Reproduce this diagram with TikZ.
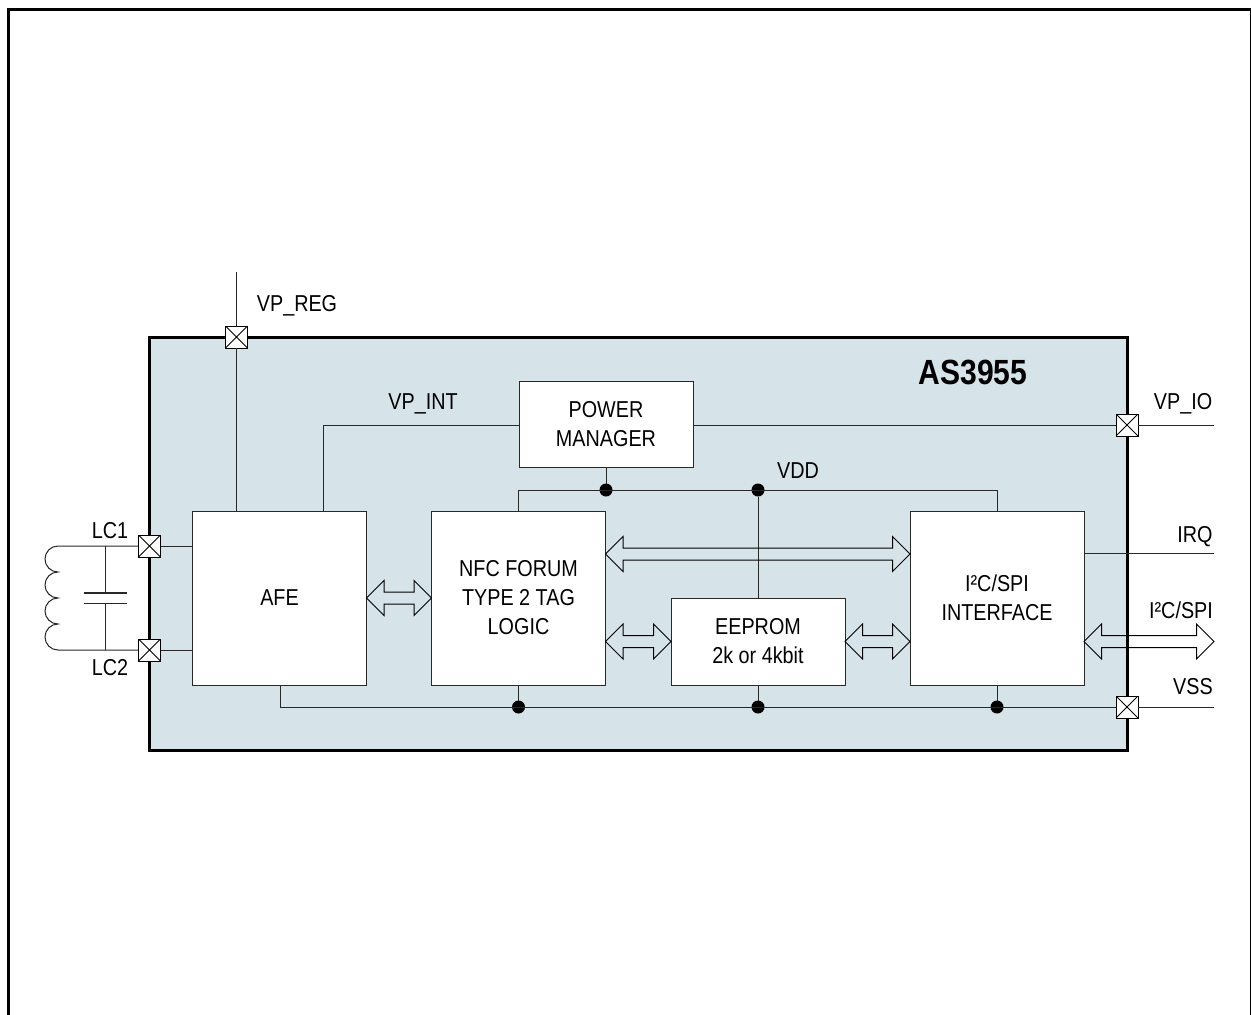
\documentclass[tikz,border=0pt]{standalone}
\usepackage{fontspec}
\setmainfont[FakeStretch=0.86]{Liberation Sans}
\usetikzlibrary{calc}
\definecolor{cchip}{RGB}{214,228,234}
\definecolor{cwire}{RGB}{40,40,40}
\tikzset{chipdiag/.style={x=1pt,y=-1pt,font=\fontsize{23}{29}\selectfont}}
\tikzset{block/.style={draw=cwire,fill=white,line width=1pt,outer sep=0pt,align=center,inner sep=0pt},
         wire/.style={cwire,line width=1pt},
         bus/.style={black,line width=1pt,line join=miter},
         pin/.style={draw=black,fill=white,line width=1pt,minimum size=22pt,inner sep=0pt,outer sep=0pt,
                     path picture={\draw[black,line width=.8pt] (path picture bounding box.north west) -- (path picture bounding box.south east)
                                   (path picture bounding box.south west) -- (path picture bounding box.north east);}},
         junction/.style={circle,fill=black,minimum size=13pt,inner sep=0pt,outer sep=0pt}}
% open double arrow between two points on one horizontal line
\newcommand{\busarrow}[2]{%
  \draw[bus] let \p1=(#1),\p2=(#2) in
    (\x1,\y1) -- (\x1+17.5pt,\y1+17.5pt) -- (\x1+17.5pt,\y1+6pt) -- (\x2-17.5pt,\y1+6pt) -- (\x2-17.5pt,\y1+17.5pt) --
    (\x2,\y1) -- (\x2-17.5pt,\y1-17.5pt) -- (\x2-17.5pt,\y1-6pt) -- (\x1+17.5pt,\y1-6pt) -- (\x1+17.5pt,\y1-17.5pt) -- cycle;}

\begin{document}
\begin{tikzpicture}[chipdiag]
    \useasboundingbox (0,0) rectangle (1251,1015);
    \draw[black,line width=3pt] (8,1015) -- (8,9) -- (1251,9) -- (1251,1015);
    \node[draw=black,fill=cchip,line width=3pt,minimum width=977.6pt,minimum height=413pt,inner sep=0pt] (chip) at (638.5,543.5) {};

    % blocks
    \node[block,minimum width=174pt,minimum height=174pt] (afe)   at (279.5,598) {AFE};
    \node[block,minimum width=174pt,minimum height=174pt] (nfc)   at (518.5,598) {NFC FORUM\\TYPE 2 TAG\\LOGIC};
    \node[block,minimum width=174pt,minimum height=87pt]  (eep)   at (758,641.5) {EEPROM\\2k or 4kbit};
    \node[block,minimum width=174pt,minimum height=174pt] (ifc)   at (997,598) {I²C/SPI\\INTERFACE};
    \node[block,minimum width=174pt,minimum height=86pt]  (pwr)   at (606,424) {POWER\\MANAGER};

    % pins and free ends
    \node[pin] (pvreg) at (236.5,337) {};
    \node[pin] (plc1)  at (149.5,546) {};
    \node[pin] (plc2)  at (149.5,650) {};
    \node[pin] (pvio)  at (1127,425) {};
    \node[pin] (pvss)  at (1127,707) {};
    \coordinate (evreg) at (236.5,272);
    \coordinate (evio)  at (1214,425);
    \coordinate (evss)  at (1214,707);
    \coordinate (eirq)  at (1214,553);
    \coordinate (ebus)  at (1214,641.5);
    \coordinate (vint)  at (323,425);
    \coordinate (vssl)  at (280,707);
    \coordinate (vddl)  at (518.5,490);
    \coordinate (vddr)  at (997,490);

    % junctions
    \node[junction] (j1) at (606,490) {};
    \node[junction] (j2) at (758,490) {};
    \node[junction] (j3) at (518.5,707) {};
    \node[junction] (j4) at (758,707) {};
    \node[junction] (j5) at (997,707) {};

    % wires
    \draw[wire] (evreg) -- (pvreg);
    \draw[wire] (pvreg) -- (afe.north -| pvreg);
    \draw[wire] (afe.north -| vint) -- (vint) -- (pwr.west |- vint);
    \draw[wire] (pwr.east |- pvio) -- (pvio);
    \draw[wire] (pvio) -- (evio);
    \draw[wire] (pwr.south) -- (j1);
    \draw[wire] (nfc.north) -- (vddl) -- (vddr) -- (ifc.north);
    \draw[wire] (j2) -- (eep.north);
    \draw[wire] (afe.south -| vssl) -- (vssl) -- (pvss);
    \draw[wire] (pvss) -- (evss);
    \draw[wire] (nfc.south) -- (j3);
    \draw[wire] (eep.south) -- (j4);
    \draw[wire] (ifc.south) -- (j5);
    \draw[wire] (ifc.east |- eirq) -- (eirq);
    \draw[wire] (plc1) -- (afe.west |- plc1);
    \draw[wire] (plc2) -- (afe.west |- plc2);

    % antenna
    \coordinate (coila) at (58,546);
    \coordinate (coilb) at (58,650);
    \coordinate (capa) at (105,593);
    \coordinate (capb) at (105,603);
    \draw[wire] (plc1) -- (coila)
      arc[start angle=270,end angle=90,radius=13]
      arc[start angle=270,end angle=90,radius=13]
      arc[start angle=270,end angle=90,radius=13]
      arc[start angle=270,end angle=90,radius=13] -- (plc2);
    \draw[wire] (plc1 -| capa) -- (capa);
    \draw[wire] (plc2 -| capb) -- (capb);
    \draw[cwire,line width=1.8pt] (84,593) -- (127,593);
    \draw[wire] (84,603) -- (127,603);

    % buses
    \busarrow{afe.east |- nfc.center}{nfc.west}
    \busarrow{$(nfc.east |- 0,554)$}{$(ifc.west |- 0,554)$}
    \busarrow{nfc.east |- eep.center}{eep.west}
    \busarrow{eep.east}{ifc.west |- eep.center}
    \busarrow{ifc.east |- ebus}{ebus}

    % labels
    \node[font=\fontsize{35}{35}\selectfont\bfseries] (lchip) at (973,372) {AS3955};
    \node (lvreg) at (297,306) {VP\_REG};
    \node (lvint) at (423,404) {VP\_INT};
    \node (lvio)  at (1183,404) {VP\_IO};
    \node (lvdd)  at (798,471) {VDD};
    \node (llc1)  at (110,530.5) {LC1};
    \node (llc2)  at (110,667.5) {LC2};
    \node (lirq)  at (1195,536.5) {IRQ};
    \node (lbus)  at (1181,610.5) {I²C/SPI};
    \node (lvss)  at (1193,686.5) {VSS};
  \end{tikzpicture}
\end{document}
